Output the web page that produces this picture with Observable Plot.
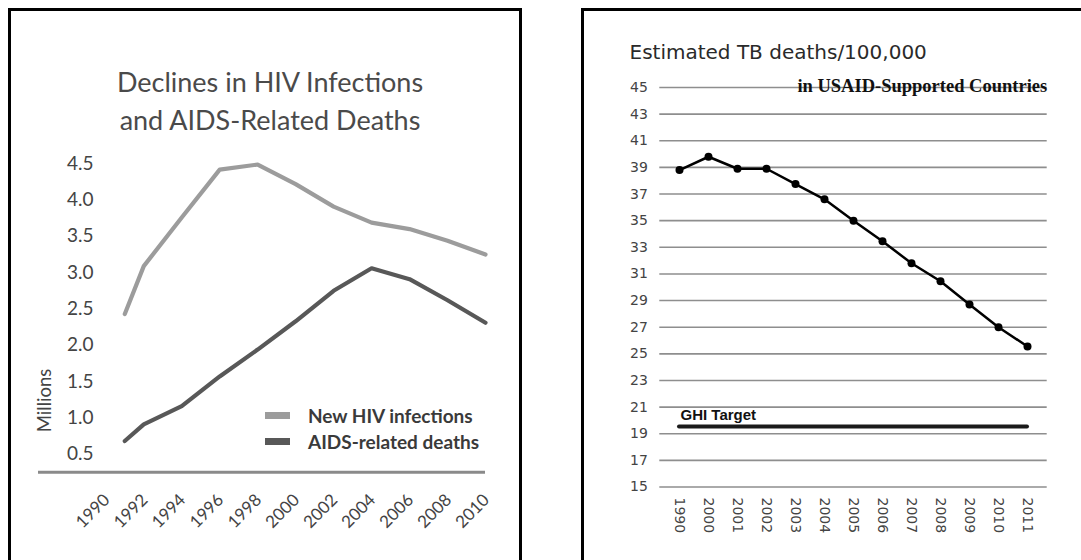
<!DOCTYPE html>
<html><head><meta charset="utf-8">
<script src="https://cdn.jsdelivr.net/npm/d3@7"></script>
<script src="https://cdn.jsdelivr.net/npm/@observablehq/plot@0.6"></script>
<style>
html,body{margin:0;padding:0;background:#fff;overflow:hidden;}
#stage{position:relative;width:1081px;height:560px;overflow:hidden;}
.panel{position:absolute;border:3px solid #000;border-bottom:none;box-sizing:border-box;z-index:2;pointer-events:none;}
#pL{left:8px;top:8px;width:514px;height:600px;}
#pR{left:581px;top:8px;width:600px;height:600px;}
#cL,#cR{position:absolute;top:0;z-index:1;}
#cL{left:0;} #cR{left:540px;}
.legend{position:absolute;left:265px;top:0;font-family:Lato,sans-serif;font-weight:bold;font-size:19px;color:#3a3a3a;z-index:3}
.legend .row{position:absolute;left:0;white-space:nowrap;display:flex;align-items:center;height:20px}
.sw{display:inline-block;width:25px;height:7px;margin-right:18px}
</style></head>
<body>
<div id="stage">
  <div id="cL"></div>
  <div id="cR"></div>
  <div class="panel" id="pL"></div>
  <div class="panel" id="pR"></div>
  <div class="legend" id="legL"></div>
</div>
<script>
// ---------- Left chart data ----------
const hivYears = [1991, 1992, 1994, 1996, 1998, 2000, 2002, 2004, 2006, 2008, 2010];
const newInfections = [2.43, 3.09, 3.76, 4.42, 4.49, 4.22, 3.91, 3.69, 3.60, 3.44, 3.25];
const aidsDeaths = [0.68, 0.91, 1.16, 1.57, 1.94, 2.33, 2.75, 3.06, 2.91, 2.62, 2.31];
const hivTickYears = [1990, 1992, 1994, 1996, 1998, 2000, 2002, 2004, 2006, 2008, 2010];
const hivYTicks = [0.5, 1.0, 1.5, 2.0, 2.5, 3.0, 3.5, 4.0, 4.5];
const hivSeries = ["New HIV infections", "AIDS-related deaths"];
const hivColors = ["#9c9c9c", "#585858"];
const titleL = "Declines in HIV Infections\nand AIDS-Related Deaths";
const yLabelL = "Millions";

// ---------- Right chart data ----------
const tbYears = ["1990", "2000", "2001", "2002", "2003", "2004", "2005", "2006", "2007", "2008", "2009", "2010", "2011"];
const tbDeaths = [38.8, 39.8, 38.9, 38.9, 37.75, 36.6, 35.0, 33.45, 31.8, 30.45, 28.7, 27.0, 25.55];
const tbYTicks = [15, 17, 19, 21, 23, 25, 27, 29, 31, 33, 35, 37, 39, 41, 43, 45];
const ghiTarget = 19.55;
const ghiLabel = "GHI Target";
const titleR = "Estimated TB deaths/100,000";
const subtitleR = "in USAID-Supported Countries";

// ---------- Left chart ----------
const hivRows = hivYears.flatMap((year, i) => [
  {year, value: newInfections[i], series: hivSeries[0]},
  {year, value: aidsDeaths[i], series: hivSeries[1]}
]);

const plotL = Plot.plot({
  width: 540, height: 560,
  marginLeft: 38, marginRight: 55, marginTop: 163.3, marginBottom: 88.3,
  x: {domain: [1990, 2010], insetLeft: 67.3, axis: null},
  y: {domain: [0.25, 4.5], axis: null},
  color: {domain: hivSeries, range: hivColors},
  style: {background: "transparent", overflow: "visible", fontFamily: "Lato, sans-serif", color: "#444"},
  marks: [
    Plot.ruleY([0.25], {stroke: "#8a8a8a", strokeWidth: 3}),
    Plot.line(hivRows, {x: "year", y: "value", stroke: "series", z: "series", strokeWidth: 4.2, strokeLinejoin: "round"}),
    Plot.text(hivYTicks, {y: d => d, text: d => d.toFixed(1), frameAnchor: "left", lineAnchor: "middle", dx: 55, textAnchor: "end", fontSize: 19, fill: "#444"}),
    Plot.text(hivTickYears, {x: d => d, text: d => String(d), frameAnchor: "bottom", lineAnchor: "middle", rotate: -45, textAnchor: "end", dx: 1, dy: 25, fontSize: 17, fill: "#444"}),
    Plot.text([yLabelL], {text: d => d, frameAnchor: "bottom-left", lineAnchor: "middle", rotate: -90, dx: 7, dy: -40, fontSize: 18.5, fill: "#444"}),
    Plot.text([titleL], {text: d => d, frameAnchor: "top", lineAnchor: "middle", dx: 8, dy: -65, fontSize: 27, letterSpacing: 1, lineHeight: 1.41, fill: "#4a4a4a"})
  ]
});
document.getElementById("cL").append(plotL);

// legend (HTML)
const leg = document.getElementById("legL");
hivSeries.forEach((s, i) => {
  const row = document.createElement("div");
  row.className = "row";
  row.style.top = (405 + i * 26) + "px";
  const sw = document.createElement("span");
  sw.className = "sw";
  sw.style.background = hivColors[i];
  row.append(sw, document.createTextNode(s));
  leg.append(row);
});

// ---------- Right chart ----------
const tbRows = tbYears.map((year, i) => ({year, deaths: tbDeaths[i]}));

const plotR = Plot.plot({
  width: 541, height: 560,
  marginLeft: 119.3, marginRight: 34.3, marginTop: 87, marginBottom: 73.5,
  x: {type: "point", domain: tbYears, padding: 0.5, axis: null},
  y: {domain: [15, 45], axis: null},
  style: {background: "transparent", overflow: "visible", color: "#444"},
  marks: [
    Plot.ruleY(tbYTicks, {stroke: "#8e8e8e", strokeWidth: 1.6}),
    Plot.text(tbYTicks, {y: d => d, text: d => String(d), frameAnchor: "left", lineAnchor: "middle", dx: -12, textAnchor: "end", fontSize: 14, fontFamily: "DejaVu Sans", fill: "#444"}),
    Plot.text(tbYears, {x: d => d, text: d => d, frameAnchor: "bottom", lineAnchor: "middle", rotate: 90, textAnchor: "start", dy: 10.5, fontSize: 14, fontFamily: "DejaVu Sans", fill: "#444"}),
    Plot.ruleY([ghiTarget], {x1: () => tbYears[0], x2: () => tbYears[tbYears.length - 1], stroke: "#1a1a1a", strokeWidth: 4, strokeLinecap: "round"}),
    Plot.text([ghiLabel], {x: () => tbYears[0], y: () => ghiTarget, text: d => d, textAnchor: "start", lineAnchor: "middle", dx: 1, dy: -11.7, fontSize: 15, fontWeight: "bold", fontFamily: "Liberation Sans", fill: "#111"}),
    Plot.line(tbRows, {x: "year", y: "deaths", stroke: "#000", strokeWidth: 2.5}),
    Plot.dot(tbRows, {x: "year", y: "deaths", r: 4, fill: "#000"}),
    Plot.text([titleR], {text: d => d, frameAnchor: "top-left", lineAnchor: "middle", dx: -30.3, dy: -35, textAnchor: "start", fontSize: 20, fontFamily: "DejaVu Sans", fill: "#2a2a2a"}),
    Plot.text([subtitleR], {text: d => d, frameAnchor: "top-right", lineAnchor: "middle", textAnchor: "end", dy: -1, fontSize: 18.5, fontWeight: "bold", fontFamily: "Liberation Serif", fill: "#111"})
  ]
});
document.getElementById("cR").append(plotR);
</script>
</body></html>
